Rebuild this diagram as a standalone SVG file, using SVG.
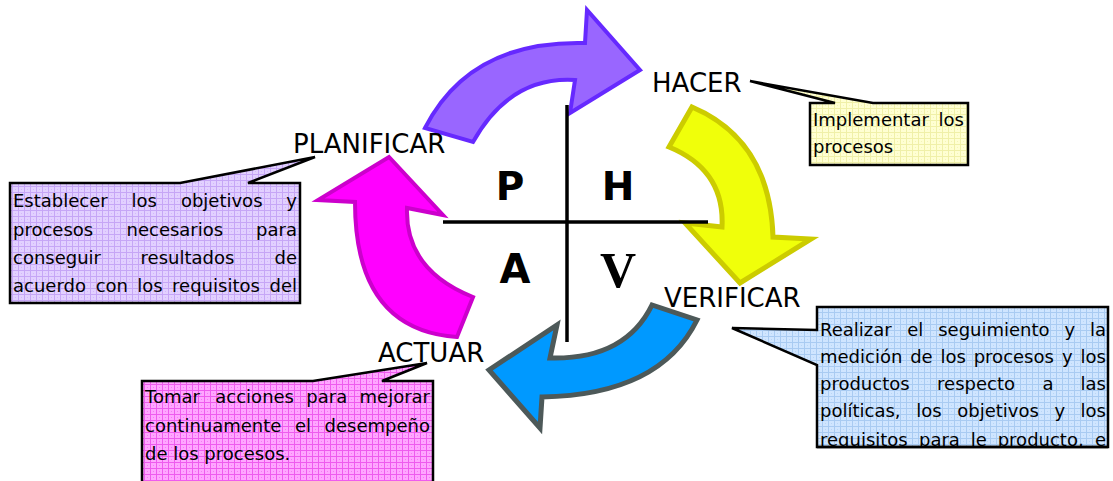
<svg xmlns="http://www.w3.org/2000/svg" width="1113" height="481" viewBox="0 0 1113 481">
  <defs>
    <!-- fine grid fills for the callout boxes -->
    <pattern id="gridPurple" width="6" height="6" patternUnits="userSpaceOnUse">
      <rect width="6" height="6" fill="#E2D0FF"/>
      <path d="M0,0.5H6M0.5,0V6" stroke="#C6A6F6" stroke-width="1"/>
      <rect x="3" y="3" width="1" height="1" fill="#D2B8FA"/>
    </pattern>
    <pattern id="gridYellow" width="6" height="6" patternUnits="userSpaceOnUse">
      <rect width="6" height="6" fill="#FFFFD2"/>
      <path d="M0,0.5H6M0.5,0V6" stroke="#F0F0A8" stroke-width="1"/>
      <rect x="3" y="3" width="1" height="1" fill="#F4F4B8"/>
    </pattern>
    <pattern id="gridBlue" width="6" height="6" patternUnits="userSpaceOnUse">
      <rect width="6" height="6" fill="#CFE5FF"/>
      <path d="M0,0.5H6M0.5,0V6" stroke="#A9CBF2" stroke-width="1"/>
      <rect x="3" y="3" width="1" height="1" fill="#B9D6F6"/>
    </pattern>
    <pattern id="gridPink" width="6" height="6" patternUnits="userSpaceOnUse">
      <rect width="6" height="6" fill="#FFA6FF"/>
      <path d="M0,0.5H6M0.5,0V6" stroke="#EE5CEE" stroke-width="1"/>
      <rect x="3" y="3" width="1" height="1" fill="#F47CF4"/>
    </pattern>
    <clipPath id="clipBlue"><rect x="817" y="307" width="291" height="140"/></clipPath>
    <clipPath id="clipPurple"><rect x="10" y="183" width="290" height="120"/></clipPath>
    <style>
      .arrow { stroke-linejoin: miter; stroke-miterlimit: 10; }
      .stage { font-family: "DejaVu Sans", Verdana, sans-serif; font-size: 26px; fill: #000; }
      .body { font-family: "DejaVu Sans", Verdana, sans-serif; font-size: 18px; fill: #000; }
      .end { text-anchor: end; }
      .callout { stroke: #000; stroke-width: 2.5; stroke-linejoin: miter; }
      .letter { font-family: "DejaVu Sans", Verdana, sans-serif; font-weight: bold; text-anchor: middle; fill: #000; }
    </style>
  </defs>

  <rect width="1113" height="481" fill="#fff"/>

  <!-- the four curved cycle arrows -->
  <g id="arrows">
    <path id="arrow-planificar-hacer" class="arrow" fill="#9966FF" stroke="#6629FF" stroke-width="4"
          d="M425,128 Q470,40 585,43 L587,10 L640,70 L570,113 L575,80 Q510,76 473,142 Z"/>
    <path id="arrow-hacer-verificar" class="arrow" fill="#F0FF0A" stroke="#CCCC00" stroke-width="5"
          d="M692,107 Q770,140 773,237 L811,239 L740,283 L685,223 L722,227 Q725,170 669,147 Z"/>
    <path id="arrow-verificar-actuar" class="arrow" fill="#0099FF" stroke="#4D5959" stroke-width="5"
          d="M697,320 Q660,395 542,397 L540,428 L489,370 L557,325 L550,358 Q625,360 652,305 Z"/>
    <path id="arrow-actuar-planificar" class="arrow" fill="#FF00FF" stroke="#CC00CC" stroke-width="4"
          d="M457,337 Q355,330 355,202 L318,200 L389,157 L443,215 L407,208 Q405,270 473,297 Z"/>
  </g>

  <!-- central cross with the PHVA initials -->
  <g id="cross">
    <line x1="567" y1="105" x2="567" y2="342" stroke="#000" stroke-width="3.5"/>
    <line x1="443" y1="222" x2="708" y2="222" stroke="#000" stroke-width="3.5"/>
    <text class="letter" x="510" y="200" font-size="39">P</text>
    <text class="letter" x="618" y="200" font-size="39">H</text>
    <text class="letter" x="515" y="283" font-size="40">A</text>
    <text x="618" y="287" font-family="'Liberation Serif', 'Times New Roman', serif" font-weight="bold" font-size="50" text-anchor="middle">V</text>
  </g>

  <!-- stage names -->
  <g id="labels">
    <text id="label-hacer" class="stage" x="652" y="92" font-size="25">HACER</text>
    <text id="label-planificar" class="stage" x="293" y="153">PLANIFICAR</text>
    <text id="label-verificar" class="stage" x="664" y="307">VERIFICAR</text>
    <text id="label-actuar" class="stage" x="378" y="362">ACTUAR</text>
  </g>

  <!-- callout: PLANIFICAR -->
  <g id="callout-planificar">
    <path class="callout" fill="url(#gridPurple)" d="M10,183 H180 L315,157 L248,183 H300 V303 H10 Z"/>
    <g class="body" clip-path="url(#clipPurple)">
      <text y="207"><tspan x="13">Establecer</tspan><tspan x="131.6">los</tspan><tspan x="180.9">objetivos</tspan></text>
      <text class="end" x="297" y="207">y</text>
      <text y="235.5"><tspan x="13">procesos</tspan><tspan x="126.5">necesarios</tspan></text>
      <text class="end" x="297" y="235.5">para</text>
      <text y="264"><tspan x="13">conseguir</tspan><tspan x="140.6">resultados</tspan></text>
      <text class="end" x="297" y="264">de</text>
      <text y="292"><tspan x="13">acuerdo</tspan><tspan x="95.7">con</tspan><tspan x="137.3">los</tspan><tspan x="172.1">requisitos</tspan></text>
      <text class="end" x="297" y="292">del</text>
    </g>
  </g>

  <!-- callout: HACER -->
  <g id="callout-hacer">
    <path class="callout" fill="url(#gridYellow)" d="M810,103 H835 L750,81 L873,103 H968 V165 H810 Z"/>
    <g class="body">
      <text x="813" y="126">Implementar</text>
      <text class="end" x="964" y="126">los</text>
      <text x="813" y="153">procesos</text>
    </g>
  </g>

  <!-- callout: VERIFICAR -->
  <g id="callout-verificar">
    <path class="callout" fill="url(#gridBlue)" d="M817,307 H1108 V447 H817 V365 L732,328 L817,330 Z"/>
    <g class="body" clip-path="url(#clipBlue)">
      <text y="336"><tspan x="820">Realizar</tspan><tspan x="907.3">el</tspan><tspan x="938.2">seguimiento</tspan><tspan x="1064.4">y</tspan></text>
      <text class="end" x="1106" y="336">la</text>
      <text y="363"><tspan x="820">medición</tspan><tspan x="910.2">de</tspan><tspan x="940.5">los</tspan><tspan x="973.7">procesos</tspan><tspan x="1062.1">y</tspan></text>
      <text class="end" x="1106" y="363">los</text>
      <text y="390"><tspan x="820">productos</tspan><tspan x="937.1">respecto</tspan><tspan x="1042.5">a</tspan></text>
      <text class="end" x="1106" y="390">las</text>
      <text y="417"><tspan x="820">políticas,</tspan><tspan x="916.2">los</tspan><tspan x="957.2">objetivos</tspan><tspan x="1054.4">y</tspan></text>
      <text class="end" x="1106" y="417">los</text>
      <text y="446"><tspan x="820">requisitos</tspan><tspan x="919">para</tspan><tspan x="970.7">le</tspan><tspan x="997.7">producto,</tspan></text>
      <text class="end" x="1106" y="446">e</text>
    </g>
    <path d="M817,447 H1108" stroke="#000" stroke-width="2.5"/>
  </g>

  <!-- callout: ACTUAR -->
  <g id="callout-actuar">
    <path class="callout" fill="url(#gridPink)" d="M142,381 H313 L427,363 L382,381 H433 V495 H142 Z"/>
    <g class="body">
      <text y="403"><tspan x="145">Tomar</tspan><tspan x="215.3">acciones</tspan><tspan x="306.3">para</tspan></text>
      <text class="end" x="430" y="403">mejorar</text>
      <text y="432"><tspan x="145">continuamente</tspan><tspan x="295">el</tspan></text>
      <text class="end" x="430" y="432">desempeño</text>
      <text x="145" y="460">de los procesos.</text>
    </g>
  </g>
</svg>
